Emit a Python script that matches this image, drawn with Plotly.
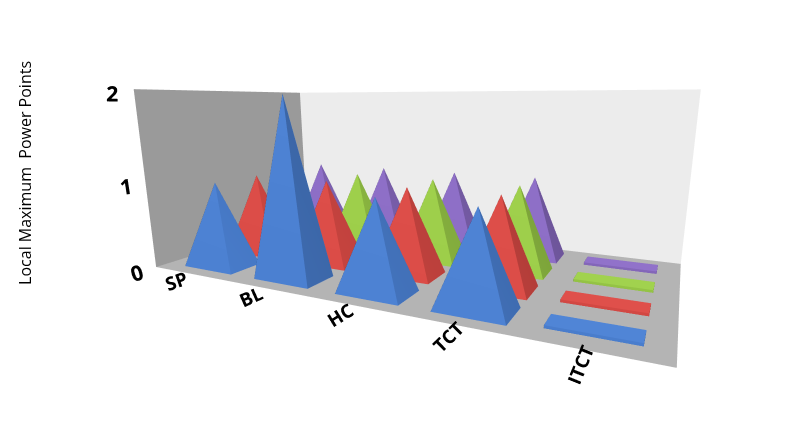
import plotly.graph_objects as go

# Data
categories = ['SP', 'BL', 'HC', 'TCT', 'ITCT']
series_names = ['Series 1', 'Series 2', 'Series 3', 'Series 4']
series_colors = ['#4a7fd0', '#d94a45', '#9bcc48', '#8b6cc4']
values = [
    [1, 2, 1, 1, 0],  # blue
    [1, 1, 1, 1, 0],  # red
    [1, 1, 1, 1, 0],  # green
    [1, 1, 1, 1, 0],  # purple
]
z_ticks = [0, 1, 2]

half = 0.34
fig = go.Figure()

for s, (name, color, row) in enumerate(zip(series_names, series_colors, values)):
    xs, ys, zs, ii, jj, kk = [], [], [], [], [], []
    for c, v in enumerate(row):
        b = len(xs)
        if v > 0:
            xs += [c - half, c + half, c + half, c - half, c]
            ys += [s - half, s - half, s + half, s + half, s]
            zs += [0, 0, 0, 0, v]
            tris = [(0, 1, 4), (1, 2, 4), (2, 3, 4), (3, 0, 4), (0, 1, 2), (0, 2, 3)]
        else:
            # flat plate for a zero value
            hx, hy, h = half * 1.1, half * 0.6, 0.03
            xs += [c - hx, c + hx, c + hx, c - hx] * 2
            ys += [s - hy, s - hy, s + hy, s + hy] * 2
            zs += [0] * 4 + [h] * 4
            tris = [(4, 5, 6), (4, 6, 7), (0, 1, 5), (0, 5, 4), (1, 2, 6), (1, 6, 5),
                    (2, 3, 7), (2, 7, 6), (3, 0, 4), (3, 4, 7)]
        for a, b2, c2 in tris:
            ii.append(b + a); jj.append(b + b2); kk.append(b + c2)
    fig.add_trace(go.Mesh3d(
        x=xs, y=ys, z=zs, i=ii, j=jj, k=kk, color=color, flatshading=True,
        lighting=dict(ambient=0.55, diffuse=0.8, specular=0.15, roughness=0.6),
        lightposition=dict(x=-1000, y=-2000, z=3000),
        name=name, showscale=False, hoverinfo='skip'))

axis_common = dict(showgrid=False, zeroline=False, showspikes=False, title='')
fig.update_layout(
    width=797, height=434,
    paper_bgcolor='white',
    margin=dict(l=0, r=0, t=0, b=0),
    showlegend=False,
    font=dict(family='Open Sans', size=14, color='black'),
    scene=dict(
        domain=dict(x=[0.06, 1], y=[0, 1]),
        xaxis=dict(axis_common, tickvals=list(range(len(categories))), ticktext=categories,
                   range=[-0.6, len(categories) - 0.4], showbackground=True,
                   backgroundcolor='#9a9a9a',
                   tickfont=dict(size=15, family='Open Sans', weight='bold')),
        yaxis=dict(axis_common, showticklabels=False, range=[-0.6, len(series_names) - 0.4],
                   showbackground=True, backgroundcolor='#ececec'),
        zaxis=dict(axis_common, tickvals=z_ticks, range=[0, 2.05], showbackground=True,
                   backgroundcolor='#b4b4b4',
                   tickfont=dict(size=16, family='Open Sans', weight='bold')),
        aspectmode='manual', aspectratio=dict(x=2.2, y=1.1, z=0.8),
        camera=dict(eye=dict(x=1.05, y=-2.1, z=0.35), center=dict(x=0.05, y=0, z=-0.2)),
    ),
)
fig.add_annotation(text='Local Maximum  Power Points', x=0.005, y=0.62, xref='paper', yref='paper',
                   textangle=-90, showarrow=False, font=dict(size=16, family='Open Sans'))

fig.write_html('out.html')
